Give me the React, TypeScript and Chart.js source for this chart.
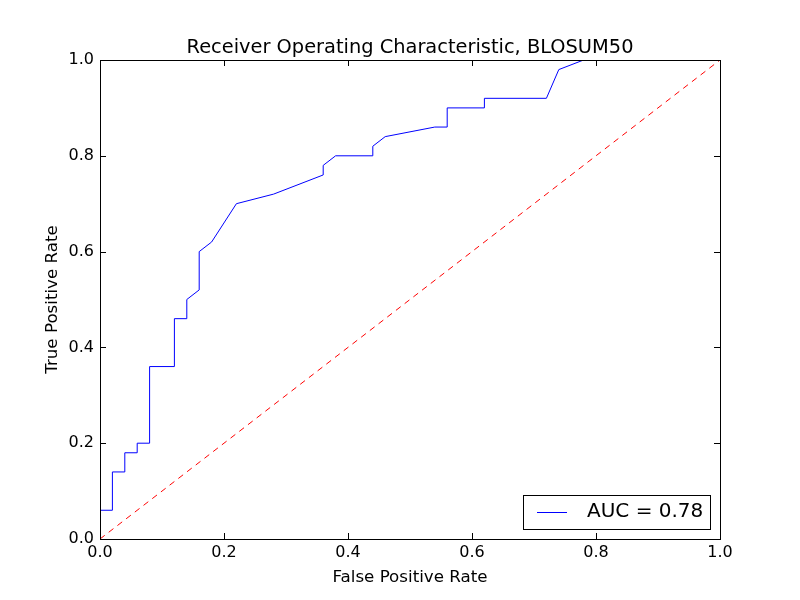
import React, { useEffect, useRef } from "react";
import { Chart, registerables } from "chart.js";
Chart.register(...registerables);

const fpr = [0, 0.02, 0.02, 0.04, 0.04, 0.06, 0.06, 0.08, 0.08, 0.12, 0.12, 0.14, 0.14, 0.16, 0.16, 0.18, 0.22, 0.28, 0.36, 0.36, 0.38, 0.44, 0.44, 0.46, 0.54, 0.56, 0.56, 0.62, 0.62, 0.72, 0.74, 0.78, 1.0];
const tpr = [0.06, 0.06, 0.14, 0.14, 0.18, 0.18, 0.2, 0.2, 0.36, 0.36, 0.46, 0.46, 0.5, 0.52, 0.6, 0.62, 0.7, 0.72, 0.76, 0.78, 0.8, 0.8, 0.82, 0.84, 0.86, 0.86, 0.9, 0.9, 0.92, 0.92, 0.98, 1.0, 1.0];
const diagX = [0, 1];
const diagY = [0, 1];
const ticks = [0, 0.2, 0.4, 0.6, 0.8, 1.0];
const titleText = "Receiver Operating Characteristic, BLOSUM50";
const legendText = "AUC = 0.78";

const mpl = {
  id: "mpl",
  afterDraw(chart: any) {
    const { ctx, chartArea: a, scales } = chart;
    ctx.save();
    ctx.strokeStyle = "#000";
    ctx.lineWidth = 1;
    ctx.strokeRect(a.left + 0.5, a.top + 0.5, a.right - a.left, a.bottom - a.top);
    ctx.beginPath();
    for (const t of ticks) {
      const x = Math.round(scales.x.getPixelForValue(t)) + 0.5;
      ctx.moveTo(x, a.bottom); ctx.lineTo(x, a.bottom - 6);
      ctx.moveTo(x, a.top); ctx.lineTo(x, a.top + 6);
      const y = Math.round(scales.y.getPixelForValue(t)) + 0.5;
      ctx.moveTo(a.left, y); ctx.lineTo(a.left + 6, y);
      ctx.moveTo(a.right, y); ctx.lineTo(a.right - 6, y);
    }
    ctx.stroke();
    ctx.fillStyle = "#000";
    ctx.font = "19.4px 'DejaVu Sans'";
    ctx.textAlign = "center";
    ctx.textBaseline = "alphabetic";
    ctx.fillText(titleText, (a.left + a.right) / 2, a.top - 7);
    // legend
    ctx.fillStyle = "#fff";
    ctx.fillRect(523.5, 495.5, 187, 34);
    ctx.strokeRect(523.5, 495.5, 187, 34);
    ctx.strokeStyle = "#0000ff";
    ctx.beginPath(); ctx.moveTo(537, 512.5); ctx.lineTo(567, 512.5); ctx.stroke();
    ctx.fillStyle = "#000";
    ctx.textAlign = "left";
    ctx.textBaseline = "middle";
    ctx.font = "20px 'DejaVu Sans'";
    ctx.fillText(legendText, 587, 512);
    ctx.restore();
  },
};

export default function App() {
  const ref = useRef<HTMLCanvasElement>(null);
  useEffect(() => {
    document.body.style.margin = "0";
    const font = { family: "'DejaVu Sans'", size: 16 };
    const tfont = { family: "'DejaVu Sans'", size: 16.7 };
    const c = new Chart(ref.current!, {
      type: "scatter",
      data: {
        datasets: [
          { data: fpr.map((x, i) => ({ x, y: tpr[i] })), showLine: true, borderColor: "#0000ff", borderWidth: 1, pointRadius: 0, fill: false },
          { data: diagX.map((x, i) => ({ x, y: diagY[i] })), showLine: true, borderColor: "#ff0000", borderWidth: 1, borderDash: [6, 5], pointRadius: 0, fill: false },
        ],
      },
      options: {
        animation: false,
        responsive: false,
        layout: { padding: { left: 43, right: 80, top: 60, bottom: 12 } },
        plugins: { legend: { display: false }, tooltip: { enabled: false } },
        scales: {
          x: {
            type: "linear", min: 0, max: 1,
            afterFit: (s: any) => { s.height = 49; },
            afterBuildTicks: (s: any) => { s.ticks = ticks.map((v) => ({ value: v })); },
            ticks: { font, color: "#000", padding: 4, maxRotation: 0, callback: (v: any) => Number(v).toFixed(1) },
            grid: { display: false, drawTicks: false },
            border: { display: false },
            title: { display: true, text: "False Positive Rate", font: tfont, color: "#000", padding: 0 },
          },
          y: {
            type: "linear", min: 0, max: 1,
            afterFit: (s: any) => { s.width = 57; },
            afterBuildTicks: (s: any) => { s.ticks = ticks.map((v) => ({ value: v })); },
            ticks: { font, color: "#000", padding: 6, callback: (v: any) => Number(v).toFixed(1) },
            grid: { display: false, drawTicks: false },
            border: { display: false },
            title: { display: true, text: "True Positive Rate", font: tfont, color: "#000", padding: 0 },
          },
        },
      },
      plugins: [mpl],
    });
    return () => c.destroy();
  }, []);
  return <canvas ref={ref} width={800} height={600} style={{ display: "block" }} />;
}
